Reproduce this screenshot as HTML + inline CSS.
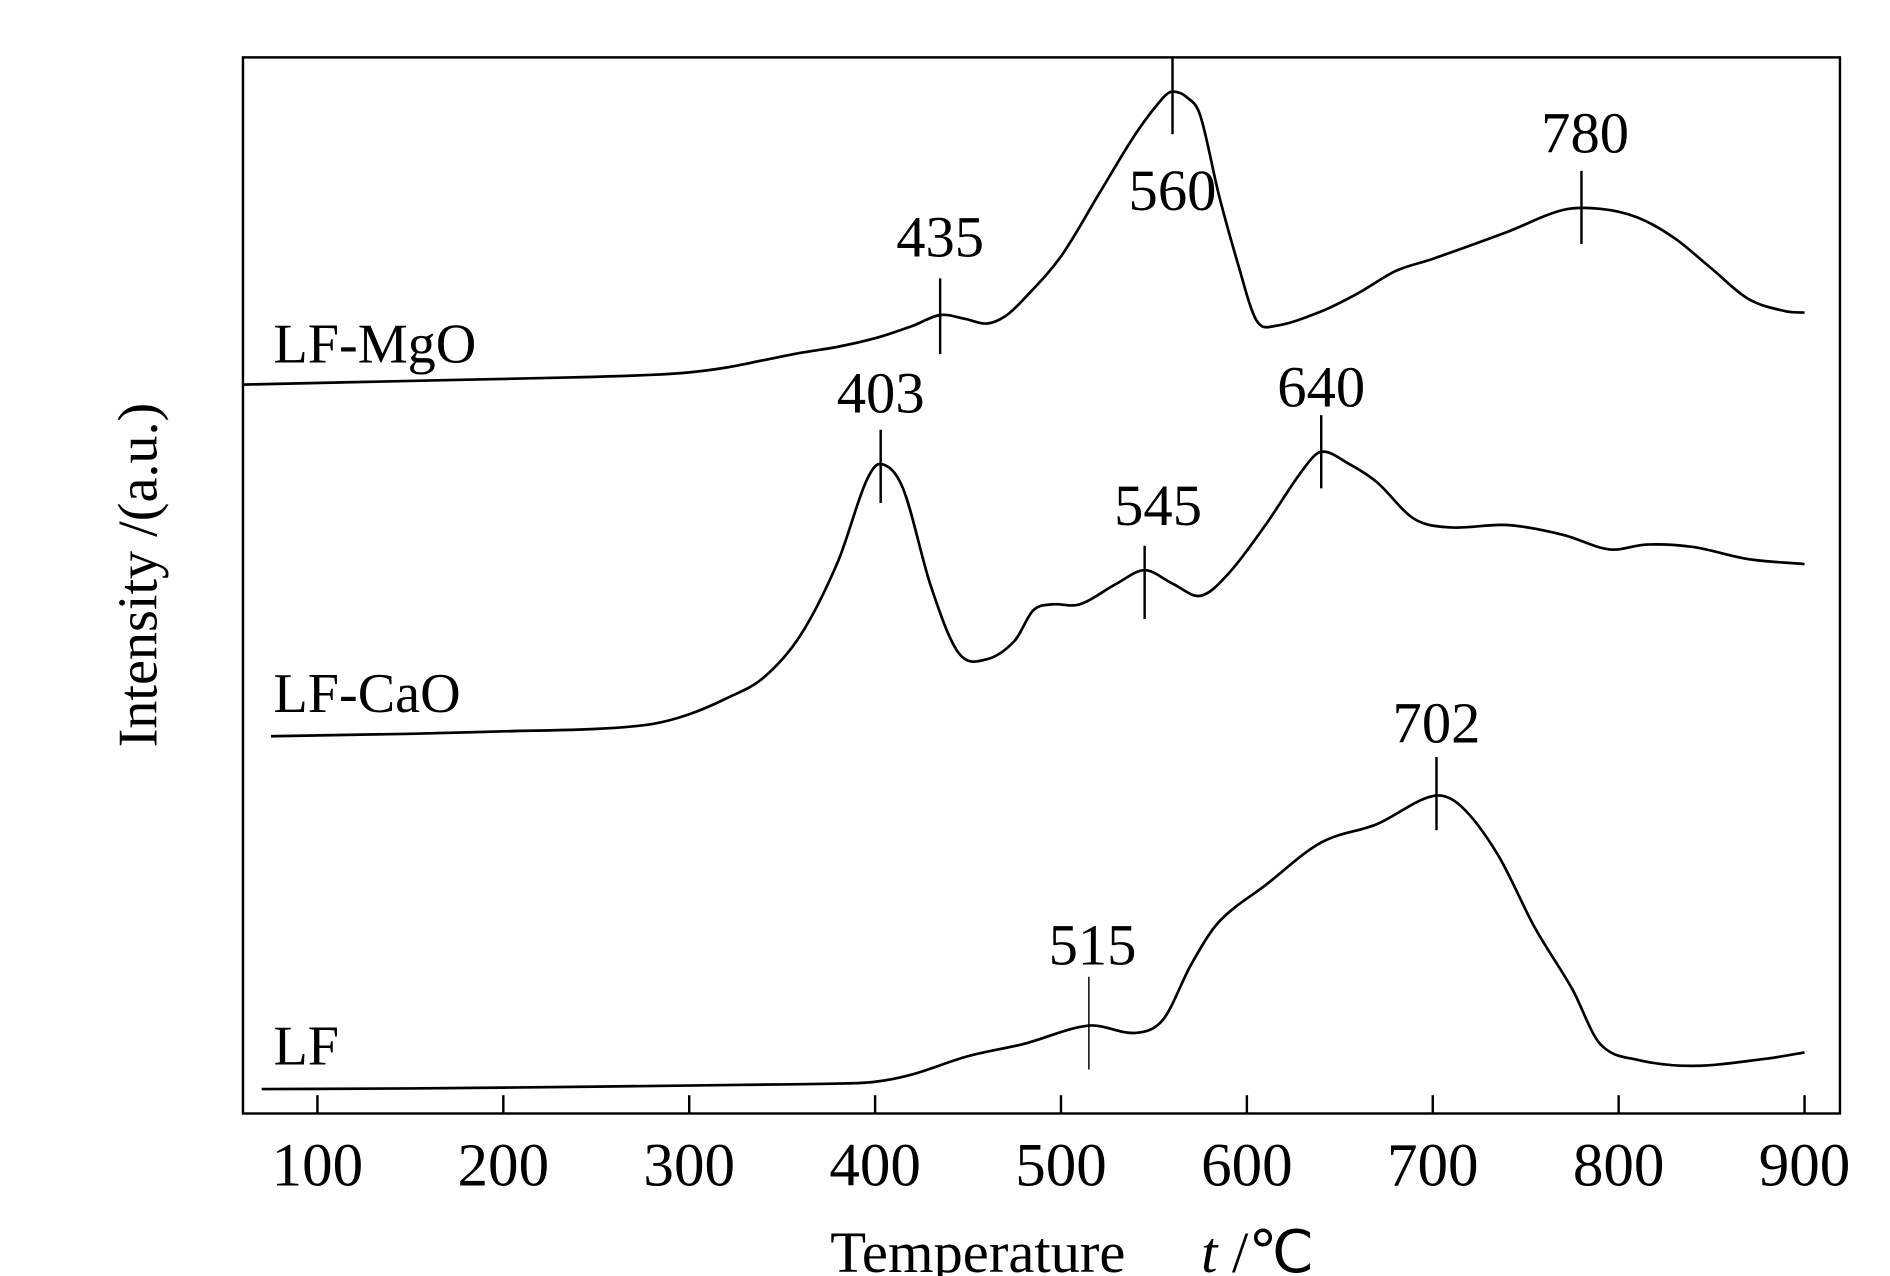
<!DOCTYPE html>
<html><head><meta charset="utf-8"><style>
html,body{margin:0;padding:0;background:#fff;}
svg{display:block;}
text{font-family:"Liberation Serif",serif;fill:#000;}
</style></head><body>
<svg id="chart" width="1890" height="1276" viewBox="0 0 1548 1045.1" preserveAspectRatio="none" xmlns="http://www.w3.org/2000/svg">
<rect x="199" y="47" width="1308" height="865" fill="none" stroke="#000" stroke-width="2"/>
<g id="ticks"></g>
<g id="series"></g>
<text transform="translate(128,471) rotate(-90)" text-anchor="middle" font-size="46">Intensity /(a.u.)</text>
<text x="680" y="1042" font-size="48">Temperature <tspan dx="50" font-style="italic">t</tspan> /℃</text>
</svg>
<script>
const tickLabels=[100,200,300,400,500,600,700,800,900];
const mgoT=[60,120,180,240,280,300,320,340,360,380,400,420,435,448,460,470,480,500,520,540,555,560,568,575,585,595,605,615,640,660,680,700,740,770,790,810,830,850,870,890,900];
const mgoV=[597,599,601,603,605,607,611,617,623,628,635,645,654,651,647,653,667,702,752,802,832,837,832,817,752,697,650,645,657,672,690,700,722,740,741,734,717,692,667,657,656];
const caoT=[75,150,200,250,280,300,320,340,360,380,395,403,415,430,445,460,475,485,495,510,530,545,560,575,590,610,630,640,655,670,690,710,740,770,795,815,840,870,900];
const caoV=[309,311,313,315,319,327,340,357,392,452,517,532,512,432,377,372,387,412,417,417,434,445,434,424,442,482,527,542,532,517,487,480,482,474,462,466,464,454,450];
const lfT=[70,150,250,330,380,400,420,450,480,515,540,555,570,585,610,640,670,700,715,735,755,775,790,810,840,880,900];
const lfV=[20,20.5,22,23.5,24.5,26,32,47,57,72,66,77,122,157,187,222,237,260,252,212,152,102,57,44,39,45,50];
const peakT=[560,780,435,403,640,545,702,515];
const peakLabels=["560","780","435","403","640","545","702","515"];
const seriesNames=["LF-MgO","LF-CaO","LF"];
const NS="http://www.w3.org/2000/svg";
function xs(t){return 260+(t-100)*1.5225;}
function ys(v){return 912-v;}
const tg=document.getElementById('ticks'), sg=document.getElementById('series');
function mk(tag,attrs,parent){const e=document.createElementNS(NS,tag);for(const k in attrs)e.setAttribute(k,attrs[k]);parent.appendChild(e);return e;}
tickLabels.forEach(t=>{
  const l=mk('line',{x1:xs(t),x2:xs(t),y1:897,y2:912,stroke:'#000','stroke-width':2},tg);
  
  
  const tx=mk('text',{x:xs(t),y:971,'text-anchor':'middle','font-size':50},tg);
  
  
  tx.textContent=t;
});
function smoothPath(P){
  let d='M'+P[0][0].toFixed(1)+','+P[0][1].toFixed(1);
  for(let i=0;i<P.length-1;i++){
    const p0=P[Math.max(0,i-1)],p1=P[i],p2=P[i+1],p3=P[Math.min(P.length-1,i+2)];
    const h=p2[0]-p1[0];
    const m1=(p2[1]-p0[1])/((p2[0]-p0[0])||1), m2=(p3[1]-p1[1])/((p3[0]-p1[0])||1);
    const c1=[p1[0]+h/3,p1[1]+m1*h/3];
    const c2=[p2[0]-h/3,p2[1]-m2*h/3];
    d+=' C'+c1[0].toFixed(1)+','+c1[1].toFixed(1)+' '+c2[0].toFixed(1)+','+c2[1].toFixed(1)+' '+p2[0].toFixed(1)+','+p2[1].toFixed(1);
  }
  return d;
}
function drawLine(T,V,name){
  const pts=T.map((t,i)=>[xs(t),ys(V[i])]);
  const p=mk('path',{d:smoothPath(pts),fill:'none',stroke:'#000','stroke-width':2.2,'stroke-linejoin':'round'},sg);
  
  
}
drawLine(mgoT,mgoV,'lf-mgo-curve');
drawLine(caoT,caoV,'lf-cao-curve');
drawLine(lfT,lfV,'lf-curve');
const peakPos=[[47,110,172,0],[140,200,125,3],[228,290,210,0],[352,412,338,0],[340,400,333,0],[447,507,430,11],[620,680,608,0],[800,876,790,3]];
peakT.forEach((t,i)=>{
  const pp=peakPos[i];
  const l=mk('line',{x1:xs(t),x2:xs(t),y1:pp[0],y2:pp[1],stroke:'#000','stroke-width':i==7?1.2:2},sg);
  
  
  const tx=mk('text',{x:xs(t)+pp[3],y:pp[2],'text-anchor':'middle','font-size':48},sg);
  
  
  tx.textContent=peakLabels[i];
});
const nameY=[297,583,872];
seriesNames.forEach((n,i)=>{
  const tx=mk('text',{x:224,y:nameY[i],'font-size':46},sg);
  
  
  tx.textContent=n;
});
</script>
</body></html>
